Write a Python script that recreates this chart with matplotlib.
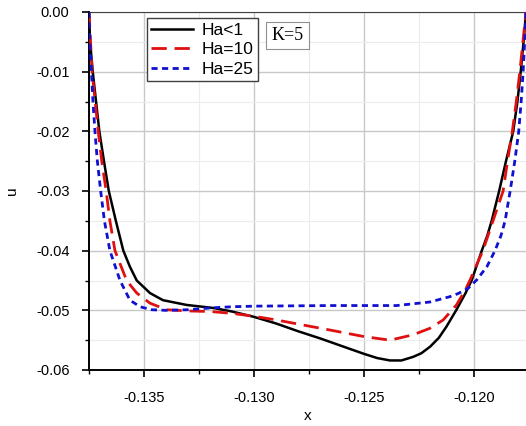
import matplotlib
matplotlib.use("Agg")
import matplotlib.pyplot as plt
from matplotlib.ticker import MultipleLocator, FormatStrFormatter

# Ha<1
x_ha1 = [-0.1375, -0.13745, -0.13733, -0.13718, -0.13703, -0.13682, -0.13660, -0.13628,
         -0.13594, -0.13564, -0.13533, -0.13473, -0.13414, -0.13306, -0.13186, -0.13100,
         -0.13000, -0.12900, -0.12800, -0.12700, -0.12600, -0.12500, -0.12440, -0.12382,
         -0.12330, -0.12277, -0.12240, -0.12200, -0.12160, -0.12125, -0.12080, -0.12040,
         -0.12010, -0.11990, -0.11965, -0.11940, -0.11920, -0.11886, -0.11855, -0.11822,
         -0.11803, -0.11788, -0.11775, -0.11764]
u_ha1 = [0.0, -0.005, -0.010, -0.015, -0.020, -0.025, -0.030, -0.035,
         -0.040, -0.0427, -0.0450, -0.0471, -0.0483, -0.0491, -0.0496, -0.0502,
         -0.0511, -0.0522, -0.0535, -0.0547, -0.0560, -0.0573, -0.0580, -0.0584,
         -0.0584, -0.0578, -0.0572, -0.0561, -0.0546, -0.0527, -0.0499, -0.0472,
         -0.0449, -0.0427, -0.0400, -0.0375, -0.0350, -0.0300, -0.0250, -0.0200,
         -0.0150, -0.0100, -0.0050, 0.0]

# Ha=10
x_ha10 = [-0.1375, -0.13743, -0.13736, -0.13722, -0.13708, -0.13692, -0.13672, -0.13655,
          -0.13632, -0.13579, -0.13533, -0.13473, -0.13397, -0.13300, -0.13200, -0.13100,
          -0.13000, -0.12900, -0.12800, -0.12655, -0.12500, -0.12382, -0.12277, -0.12200,
          -0.12140, -0.12080, -0.12040, -0.12018, -0.11990, -0.11960, -0.11914, -0.11868,
          -0.11848, -0.11826, -0.11808, -0.11792, -0.11778, -0.11764]
u_ha10 = [0.0, -0.005, -0.010, -0.015, -0.020, -0.025, -0.030, -0.035,
          -0.040, -0.0450, -0.0471, -0.0488, -0.0499, -0.0501, -0.0502, -0.0505,
          -0.0510, -0.0516, -0.0523, -0.0533, -0.0544, -0.0550, -0.0541, -0.0530,
          -0.0516, -0.0491, -0.0466, -0.0449, -0.0425, -0.0400, -0.0350, -0.0300,
          -0.0250, -0.0200, -0.0150, -0.0100, -0.0050, 0.0]

# Ha=25
x_ha25 = [-0.1375, -0.13746, -0.13739, -0.13732, -0.13723, -0.13712, -0.13697, -0.13680,
          -0.13655, -0.13609, -0.13564, -0.13518, -0.13465, -0.13400, -0.13300, -0.13200,
          -0.13100, -0.13000, -0.12655, -0.12352, -0.12200, -0.12109, -0.12073, -0.12027,
          -0.11988, -0.11942, -0.11905, -0.11878, -0.11859, -0.11836, -0.11815, -0.11797,
          -0.11786, -0.11777, -0.11770, -0.11764]
u_ha25 = [0.0, -0.005, -0.010, -0.015, -0.020, -0.025, -0.030, -0.035,
          -0.040, -0.0450, -0.0483, -0.0494, -0.0499, -0.0500, -0.0499, -0.0496,
          -0.0494, -0.0493, -0.0492, -0.0492, -0.0486, -0.0477, -0.0472, -0.0463,
          -0.0449, -0.0427, -0.0400, -0.0375, -0.0350, -0.0300, -0.0250, -0.0200,
          -0.0150, -0.0100, -0.0050, 0.0]

plt.rcParams['font.family'] = ['Liberation Sans', 'DejaVu Sans']

fig = plt.figure(figsize=(5.26, 4.26), dpi=100)
ax = fig.add_axes([89 / 526, 1 - 370 / 426, 1 - 89 / 526, (370 - 12) / 426])

ax.plot(x_ha1, u_ha1, color='black', lw=1.8, label='Ha<1', zorder=3)
ax.plot(x_ha10, u_ha10, color='#e01010', lw=2.0, dashes=(5.5, 2.8), label='Ha=10', zorder=4)
ax.plot(x_ha25, u_ha25, color='#1010d0', lw=2.0, dashes=(2.2, 1.6), label='Ha=25', zorder=5)

ax.set_xlim(-0.1375, -0.11764)
ax.set_ylim(-0.06, 0.0)
ax.xaxis.set_major_locator(MultipleLocator(0.005))
ax.xaxis.set_minor_locator(MultipleLocator(0.0025))
ax.yaxis.set_major_locator(MultipleLocator(0.01))
ax.yaxis.set_minor_locator(MultipleLocator(0.005))
ax.xaxis.set_major_formatter(FormatStrFormatter('%.3f'))
ax.yaxis.set_major_formatter(FormatStrFormatter('%.2f'))

ax.grid(which='major', color='#c8c8c8', lw=1.0)
ax.grid(which='minor', color='#ececec', lw=0.8)
ax.set_axisbelow(True)

ax.tick_params(which='major', direction='out', length=5, width=1.2, labelsize=10.5, pad=10)
ax.tick_params(which='minor', direction='out', length=3, width=1.0)
ax.tick_params(axis='y', pad=9)
for s in ['left', 'bottom']:
    ax.spines[s].set_linewidth(1.4)
ax.spines['top'].set_color('#404040')
ax.spines['right'].set_visible(False)

ax.set_xlabel('x', fontsize=11, labelpad=3)
ax.set_ylabel('u', fontsize=11, labelpad=12)

leg = ax.legend(loc='upper left', bbox_to_anchor=(0.12, 0.997), fontsize=12.5, frameon=True,
                fancybox=False, framealpha=1, edgecolor='#404040', handlelength=2.4,
                borderpad=0.25, labelspacing=0.25, handletextpad=0.5, borderaxespad=0.3)
leg.get_frame().set_linewidth(1.0)

ax.text(0.418, 0.958, 'K=5', transform=ax.transAxes, fontsize=13, family='Liberation Serif',
        va='top', ha='left',
        bbox=dict(boxstyle='square,pad=0.3', fc='white', ec='#909090', lw=0.8))

fig.savefig('out.png', dpi=100)
